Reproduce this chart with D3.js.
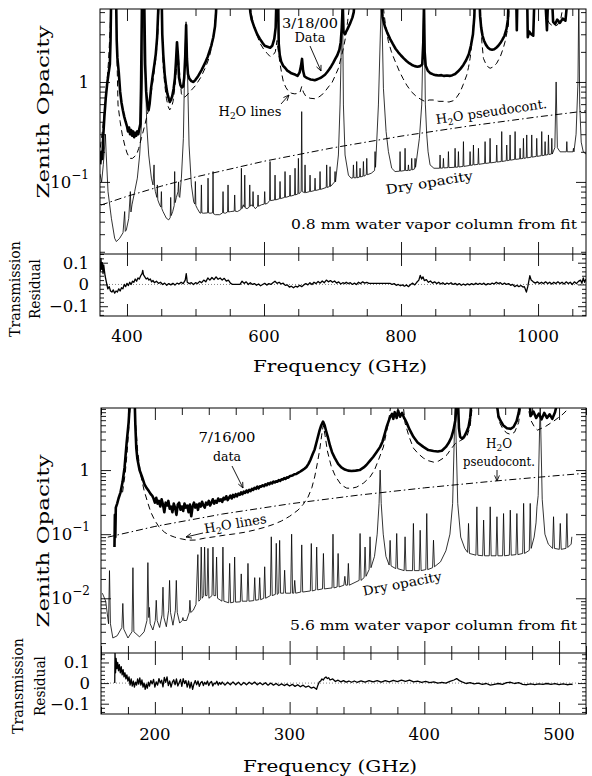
<!DOCTYPE html>
<html><head><meta charset="utf-8">
<script src="https://cdn.jsdelivr.net/npm/d3@7"></script>
<style>
html,body{margin:0;padding:0;background:#fff;}
svg{display:block;}
text{font-family:"DejaVu Serif",serif;fill:#000;}
</style></head><body>
<svg id="chart" width="592" height="776"></svg>
<script>
// ---------- tick labels ----------
const freqLabelsMar18 = [400, 600, 800, 1000];
const freqLabelsJul16 = [200, 300, 400, 500];
const opacityLabelsMar18 = [1, 0.1];
const opacityLabelsJul16 = [1, 0.1, 0.01];
const residualLabels = [0.1, 0, -0.1];

// ---------- 3/18/00 spectrum: [frequency GHz, zenith opacity] ----------
const dataMar18 = [[361,0.15],[362.5,0.2],[364,0.17],[365.5,0.3],[367,0.45],[369,0.69],[371,0.95],[373,1.2],[375,1.5],[376,2.6],[377,8],[384,8],[385,2.6],[386,1.74],[388,1.25],[390,0.8],[392,0.62],[394,0.52],[396,0.45],[398,0.4],[400,0.36],[401.5,0.32],[403,0.35],[404.5,0.3],[406,0.33],[407.5,0.29],[409,0.32],[410.5,0.28],[412,0.31],[413.5,0.29],[415,0.32],[416.5,0.3],[418,0.34],[419.5,0.38],[420.5,0.87],[422,8],[425,8],[426.5,1.5],[428,0.8],[430,0.58],[431.5,0.52],[433,0.6],[435,0.85],[437.5,1.15],[440,1.5],[442,1.9],[444,2.8],[445.5,5],[446.5,8],[450.5,8],[451.5,3],[453,1.86],[455,1.2],[457,0.92],[459,0.76],[461,0.68],[462.5,0.63],[464,0.66],[466,0.72],[468,0.85],[470,1.1],[471.5,1.6],[473,2.5],[474.5,1.8],[476,1.1],[478,0.93],[480,0.88],[482,0.9],[483.5,1.1],[485,1.8],[486.3,3.7],[487.5,1.7],[489,1.2],[491,1.08],[494,1.02],[497,1],[500,1.05],[504,1.15],[509,1.32],[514,1.55],[518,1.8],[523,2.3],[526,2.8],[528.5,3.6],[530,5],[531,8],[578,8],[580,5],[582,4.2],[586,3.5],[590,3],[594,2.7],[598,2.45],[601,2.3],[605,2.25],[609,2.2],[612,2.3],[615,2.7],[617,3.5],[618.5,8],[620.5,8],[621.5,2.4],[623,1.86],[625,1.6],[628,1.45],[631,1.38],[634,1.3],[637,1.26],[640,1.22],[643,1.2],[646,1.18],[649,1.15],[652,1.25],[654,1.45],[655.5,1.7],[657,1.3],[659,1.14],[662,1.1],[665,1.08],[668,1.06],[671,1.05],[674,1.04],[677,1.06],[680,1.08],[683,1.1],[686,1.14],[689,1.18],[692,1.25],[695,1.33],[698,1.43],[701,1.55],[704,1.7],[707,1.85],[710,2.1],[712,2.5],[713.5,3.5],[715,6],[716,3.2],[718,3],[722,3.4],[726,3.9],[729,4.4],[731,5],[733,8],[770,8],[771.5,6],[773,4.5],[775,3.9],[777,3.5],[780,3.1],[784,2.7],[788,2.4],[792,2.15],[796,1.98],[800,1.84],[804,1.72],[808,1.62],[812,1.54],[816,1.48],[820,1.44],[824,1.42],[828,1.44],[831,1.5],[832.5,2.5],[833.5,6],[834.5,2],[836,1.45],[839,1.3],[843,1.22],[847,1.19],[851,1.17],[855,1.16],[859,1.17],[863,1.15],[867,1.16],[871,1.15],[875,1.17],[879,1.2],[883,1.27],[887,1.36],[891,1.48],[895,1.65],[899,1.9],[902,2.3],[905,3],[907,4.5],[908,8],[914,8],[915.5,4.5],[917,3.5],[919,2.9],[921,2.6],[924,2.35],[927,2.2],[930,2.12],[933,2.1],[936,2.12],[939,2.2],[942,2.3],[945,2.45],[948,2.65],[951,2.9],[954,3.4],[956,4.2],[957.5,8],[968,8],[969,3.3],[970,8],[984,8],[985,2.8],[987,3.2],[990,3],[993,2.9],[995,8],[1010,8],[1013,3.3],[1015,8],[1020,8],[1022,4],[1025,3.8],[1028,4.2],[1032,3.9],[1036,4.3],[1040,4.1],[1044,8],[1070,8]];

const h2oLinesMar18 = [[361,0.22],[364,0.32],[367,0.5],[370,0.85],[373,1.6],[375.5,3.5],[377,8],[384,8],[385.5,1.6],[386.9,0.589],[390,0.4],[393,0.3],[396.6,0.234],[400,0.195],[403.9,0.172],[408,0.172],[413.7,0.186],[417,0.215],[421,0.273],[426,0.37],[430.7,0.505],[435,0.75],[439,1.15],[442.5,1.8],[445,3],[446.5,5.5],[447.5,8],[450.5,8],[451.5,3],[452.6,1.48],[455,0.95],[457.5,0.687],[460,0.57],[462.3,0.525],[465,0.56],[467.2,0.636],[470,0.9],[472.5,1.4],[474.5,2],[476.5,1.3],[479.4,0.76],[483,0.7],[486,0.72],[492,0.8],[500,0.92],[508,1.12],[515,1.42],[520,1.75],[524,2.3],[527,3.2],[529.5,5],[531,8],[578,8],[581,5],[585,3.7],[590,2.9],[594.2,2.44],[600,2.1],[605,1.92],[608.8,1.8],[613,1.85],[616.5,2],[619,2.6],[621,2],[623.5,1.5],[626,1.2],[628.3,1],[632,0.88],[636,0.8],[640.4,0.77],[645,0.76],[650,0.77],[652.6,0.79],[655,0.9],[657.5,0.79],[661,0.72],[667.2,0.687],[674,0.68],[679,0.7],[684.2,0.74],[690,0.82],[695,0.91],[698.8,0.97],[703,1.12],[708.6,1.37],[712,1.7],[715.9,2.17],[719,2.8],[722,4],[725,6],[727,8],[772,8],[775,5],[778,3.4],[781.6,2.53],[786,2],[790,1.7],[793.7,1.48],[798,1.26],[803,1.08],[808.3,0.93],[815,0.8],[822.9,0.71],[829,0.67],[835.1,0.636],[841,0.66],[847,0.66],[855,0.64],[861.9,0.64],[870,0.63],[876.5,0.65],[881,0.7],[886.2,0.79],[891,0.95],[895.9,1.17],[898.5,1.4],[900.8,1.72],[903,2.3],[905,3.2],[906.5,5],[907.5,8],[915,8],[916.5,4],[918,2.5],[920.3,1.72],[925,1.45],[930,1.37],[935,1.42],[939.7,1.54],[945,1.8],[949,2.15],[951.9,2.53],[954.5,3.1],[956.8,3.7],[958.5,8],[1010,8],[1012.7,4.5],[1016,3.9],[1022,3.6],[1028,3.7],[1033,4.2],[1036,5.5],[1038,8],[1070,8]];

const pseudoContMar18 = [[362,0.0587],[400,0.0717],[450,0.0907],[500,0.112],[600,0.161],[700,0.219],[800,0.287],[900,0.363],[1000,0.448],[1070,0.513]];

const dryMar18 = [[360.6,0.12],[363,0.1],[365.5,0.15],[367.5,0.234],[368.5,0.3],[369.5,0.2],[372.3,0.08],[377.2,0.0433],[382,0.0273],[384.5,0.0253],[389.3,0.0273],[394.2,0.031],[396.6,0.0505],[397.5,0.032],[399,0.033],[402.5,0.043],[404.9,0.08],[405.8,0.05],[407.3,0.059],[411.2,0.08],[415.1,0.109],[418.5,0.186],[421,0.37],[423.4,1.9],[424.8,8],[426.3,1.9],[428.8,0.37],[431.7,0.186],[435.6,0.109],[438,0.0933],[439.5,0.148],[440.3,0.09],[441.4,0.08],[443.6,0.07],[444.3,0.0933],[445,0.066],[447.7,0.0589],[449.5,0.056],[450.2,0.08],[450.9,0.054],[452.6,0.0505],[457.5,0.0433],[460.9,0.0417],[463.1,0.044],[463.8,0.07],[464.5,0.046],[466.7,0.0505],[468.9,0.058],[469.6,0.127],[470.3,0.062],[472.1,0.07],[474.5,0.08],[475.3,0.1],[476,0.072],[477,0.07],[479.4,0.109],[482.3,0.273],[484.2,1.5],[486.2,4],[488.1,1.5],[490.6,0.234],[494,0.0933],[497.4,0.063],[499.1,0.06],[499.8,0.101],[500.5,0.058],[502.7,0.054],[506.6,0.0486],[507.9,0.049],[508.6,0.0933],[509.3,0.049],[511.5,0.0486],[517.6,0.049],[518.3,0.109],[519,0.049],[521.2,0.0486],[524.9,0.049],[525.6,0.127],[526.3,0.048],[529,0.047],[535.3,0.047],[539.5,0.049],[540.2,0.08],[540.9,0.049],[543.6,0.0486],[546.8,0.05],[547.5,0.0933],[548.2,0.05],[551.4,0.0505],[556.5,0.051],[557.2,0.074],[557.9,0.051],[561.1,0.0505],[566.3,0.053],[567,0.137],[567.7,0.054],[569.9,0.059],[571.2,0.056],[571.9,0.117],[572.6,0.055],[575.3,0.054],[578.5,0.056],[579.2,0.0933],[579.9,0.057],[581.6,0.059],[583.3,0.057],[584,0.08],[584.7,0.057],[587.4,0.054],[590.6,0.057],[591.3,0.074],[592,0.057],[596.2,0.059],[600.3,0.06],[601,0.08],[601.7,0.06],[605,0.061],[608.1,0.065],[608.8,0.16],[609.5,0.065],[615.4,0.066],[616.1,0.117],[616.8,0.066],[622.7,0.068],[623.4,0.101],[624.1,0.068],[630,0.07],[630.7,0.127],[631.4,0.07],[637.3,0.072],[638,0.117],[638.7,0.072],[644.6,0.074],[645.3,0.137],[646,0.074],[649.5,0.076],[650.2,0.172],[650.9,0.076],[654.2,0.08],[655,0.505],[655.8,0.08],[659.2,0.078],[659.9,0.148],[660.6,0.078],[666.5,0.08],[667.2,0.117],[667.9,0.08],[673.8,0.082],[674.5,0.109],[675.2,0.082],[681.1,0.084],[681.8,0.127],[682.5,0.084],[690.8,0.088],[691.5,0.148],[692.2,0.088],[695.7,0.09],[696.4,0.142],[697.1,0.09],[703,0.1],[703.7,0.127],[704.4,0.1],[708.6,0.186],[711,0.589],[714.5,8],[715.9,0.589],[718.3,0.186],[723.2,0.117],[727,0.109],[729.8,0.11],[730.5,0.148],[731.2,0.11],[734.6,0.11],[735.3,0.16],[736,0.11],[739.5,0.112],[740.2,0.137],[740.9,0.112],[744.4,0.114],[745.1,0.16],[745.8,0.114],[749.3,0.118],[750,0.172],[750.7,0.118],[756.5,0.122],[761.4,0.13],[762.1,0.201],[762.8,0.14],[767,0.589],[771.5,8],[774.3,0.865],[778.2,0.319],[781.6,0.201],[786.4,0.137],[791.3,0.127],[797.9,0.128],[798.6,0.201],[799.3,0.128],[805.2,0.13],[805.9,0.217],[806.6,0.13],[810.1,0.13],[810.8,0.148],[811.5,0.13],[814.9,0.132],[815.6,0.172],[816.3,0.132],[819.8,0.135],[820.5,0.172],[821.2,0.14],[826.8,0.273],[830.2,0.589],[833.5,8],[835.5,0.6],[837.5,0.3],[839.5,0.2],[842.4,0.148],[848,0.137],[856.3,0.137],[857,0.186],[857.7,0.137],[861.2,0.138],[861.9,0.172],[862.6,0.138],[868.5,0.139],[869.2,0.201],[869.9,0.139],[878.2,0.14],[878.9,0.217],[879.6,0.14],[883.1,0.141],[883.8,0.201],[884.5,0.141],[890.4,0.143],[891.1,0.253],[891.8,0.143],[900.1,0.146],[900.8,0.201],[901.5,0.146],[905,0.148],[905.7,0.234],[906.4,0.148],[912.3,0.15],[913,0.217],[913.7,0.15],[922,0.153],[922.7,0.253],[923.4,0.153],[929.3,0.155],[930,0.273],[930.7,0.155],[939,0.158],[939.7,0.234],[940.4,0.158],[946.3,0.16],[947,0.319],[947.7,0.16],[953.6,0.163],[954.3,0.234],[955,0.163],[958.5,0.165],[959.2,0.295],[959.9,0.165],[965.8,0.168],[966.5,0.319],[967.2,0.168],[973.1,0.17],[973.8,0.217],[974.5,0.17],[978,0.172],[978.7,0.273],[979.4,0.172],[982.8,0.174],[983.5,0.295],[984.2,0.174],[990.1,0.177],[990.8,0.295],[991.5,0.177],[997.4,0.18],[998.1,0.273],[998.8,0.18],[1004.7,0.183],[1005.4,0.319],[1006.1,0.183],[1009.6,0.185],[1010.3,0.253],[1011,0.185],[1014.5,0.188],[1015.2,0.295],[1015.9,0.188],[1019.4,0.19],[1020.1,0.273],[1020.8,0.19],[1024.5,0.22],[1026.4,1],[1028.2,0.22],[1032.2,0.2],[1041.3,0.2],[1042,0.253],[1042.7,0.2],[1051,0.2],[1051.7,0.217],[1052.4,0.2],[1055.5,0.3],[1058.3,1],[1059.5,8],[1060.8,0.6],[1063,0.25],[1066,0.2],[1070,0.19]];

const residMar18 = [[361,0.06],[362,0.12],[363,0.07],[364,0.1],[365,0.05],[366,0.09],[368,0.04],[370,0.01],[372,-0.02],[374,-0.01],[376,-0.03],[378,-0.035],[380,-0.025],[382,-0.04],[384,-0.03],[386,-0.035],[388,-0.02],[390,-0.03],[392,-0.015],[394,-0.02],[396,0],[398,-0.01],[400,0.005],[402,-0.005],[404,0.01],[406,0],[408,0.015],[410,0.01],[412,0.025],[414,0.015],[416,0.03],[418,0.025],[420,0.04],[422,0.05],[423,0.065],[424,0.045],[426,0.035],[428,0.025],[430,0.03],[432,0.02],[434,0.025],[436,0.012],[438,0.018],[440,0.008],[443,0.015],[446,0.005],[449,0.01],[452,0],[455,0.006],[458,-0.004],[461,0.004],[464,-0.002],[467,0.005],[470,-0.003],[473,0.006],[476,0.002],[479,0.01],[482,0.004],[485,0.02],[486.5,0.05],[488,0.01],[491,0.004],[494,0.008],[497,0],[500,0.008],[503,0.004],[506,0.014],[509,0.008],[512,0.02],[515,0.012],[518,0.03],[521,0.02],[524,0.032],[527,0.022],[530,0.035],[533,0.024],[536,0.03],[539,0.02],[542,0.028],[545,0.015],[548,0.02],[551,0.006],[554,0],[565,0],[568,0.015],[571,0.005],[574,0.012],[577,0],[580,0.008],[583,0],[586,0.004],[589,-0.004],[592,0.002],[595,-0.006],[598,0],[601,0.005],[604,-0.003],[607,0.004],[610,0],[613,0.008],[616,0.015],[619,0.005],[622,0.01],[625,0.002],[628,0.006],[631,-0.004],[634,-0.002],[637,-0.012],[640,-0.008],[643,-0.015],[646,-0.008],[649,-0.012],[652,-0.004],[655,-0.01],[658,-0.002],[661,0.004],[664,-0.002],[667,0.008],[670,0],[673,0.01],[676,0.004],[679,0.014],[682,0.006],[685,0.016],[688,0.008],[691,0.02],[694,0.012],[697,0.018],[700,0.01],[703,0.016],[706,0.006],[709,0.012],[712,0.002],[715,0.008],[718,0.004],[720,0.01],[723,0.004],[726,0.008],[729,0],[732,0.006],[735,0],[738,0.01],[741,0.004],[744,0.012],[747,0.006],[750,0.01],[753,0.005],[756,0.005],[784,0.005],[787,0],[790,0.004],[793,-0.004],[796,0],[799,-0.006],[802,-0.002],[805,-0.008],[808,-0.002],[811,-0.01],[814,0],[817,0.006],[820,-0.002],[823,0.01],[826,0.02],[828,0.042],[830,0.025],[832,0.035],[834,0.018],[837,0.022],[840,0.01],[843,0.016],[846,0.006],[849,0.012],[852,0.004],[855,0.01],[858,0.002],[861,0.008],[864,0],[867,0.006],[870,0.002],[873,0.008],[876,0],[879,0.005],[882,-0.002],[885,0.004],[888,-0.004],[891,0.002],[894,-0.003],[897,0.003],[900,-0.002],[903,0.004],[906,-0.001],[909,0.006],[912,0],[915,0.005],[918,0],[921,0.006],[924,-0.002],[927,0.004],[930,0],[933,0.006],[936,0.002],[939,0.01],[942,0.004],[945,0.008],[948,0],[951,0.006],[954,0],[957,0.004],[960,-0.004],[963,0],[966,-0.01],[969,-0.004],[972,-0.01],[975,-0.005],[978,-0.012],[980,-0.01],[983,-0.035],[985,-0.01],[988,0.04],[990,0.02],[993,0.012],[996,0.006],[999,0.012],[1002,0.004],[1005,0.01],[1008,0.004],[1011,0.012],[1014,0.004],[1017,0.01],[1020,0.002],[1023,0.01],[1026,0.004],[1029,0.012],[1032,0.004],[1035,0.01],[1038,0.002],[1041,0.012],[1044,0.004],[1047,0.01],[1050,0],[1053,0.012],[1056,0.004],[1059,0.014],[1062,0.02],[1064,0.005],[1066,0.03],[1068,0.01],[1070,0.025]];

// ---------- 7/16/00 spectrum ----------
const dataJul16 = [[170,0.063],[170.3,0.2],[170.6,0.09],[171,0.26],[172,0.3],[173,0.36],[174.5,0.45],[176,0.65],[177.5,1.1],[179,2.6],[180.5,5.5],[181.5,12],[185,12],[185.5,5],[186.2,2.2],[187,1.5],[188.6,1],[190.5,0.78],[192.3,0.6],[194,0.52],[195.5,0.47],[197,0.42],[198,0.4],[199,0.36],[200,0.31],[201,0.37],[202,0.3],[203,0.33],[204,0.27],[205,0.35],[206,0.29],[207,0.22],[208,0.31],[209,0.28],[210,0.33],[211,0.25],[212,0.27],[213,0.22],[214,0.3],[215,0.26],[216,0.2],[217,0.29],[218,0.31],[219,0.24],[220,0.27],[221,0.23],[222,0.3],[223,0.26],[224,0.28],[225,0.22],[226,0.29],[227,0.19],[228,0.27],[229,0.31],[230,0.26],[231,0.29],[232,0.24],[233,0.3],[234,0.27],[235,0.32],[236,0.28],[237,0.26],[238,0.31],[239,0.29],[240,0.33],[241,0.28],[242,0.31],[243,0.35],[244,0.3],[245,0.33],[246,0.31],[247,0.36],[248,0.33],[249,0.35],[250,0.32],[251,0.37],[252,0.35],[253,0.39],[254,0.34],[255,0.37],[256,0.4],[257,0.36],[258,0.41],[259,0.38],[260,0.42],[261,0.39],[262,0.43],[263,0.41],[264,0.45],[265,0.42],[266,0.46],[267,0.44],[268,0.48],[269,0.45],[270,0.49],[271,0.47],[272,0.51],[273,0.49],[274,0.53],[275,0.51],[276,0.55],[277,0.52],[278,0.56],[279,0.55],[280,0.58],[281,0.56],[282,0.6],[283,0.58],[284,0.62],[285,0.6],[286,0.64],[287,0.62],[288,0.66],[289,0.64],[290,0.67],[291,0.66],[292,0.7],[293,0.68],[294,0.72],[295,0.71],[296,0.75],[297,0.73],[298,0.77],[299,0.76],[300,0.8],[302,0.82],[303.5,0.86],[305,0.87],[306.5,0.91],[308,0.95],[309.5,1],[311,1.05],[312.5,1.12],[314,1.25],[315.5,1.45],[317,1.75],[318.6,2.1],[320.5,3],[322.3,4.2],[323.5,5],[324.8,5.7],[326,5],[327.2,4],[328.5,3.2],[330,2.4],[331.5,1.9],[333.5,1.55],[336,1.25],[338.4,1.1],[341,1.02],[343.4,0.98],[346,0.97],[349,0.98],[352,1],[355,1.1],[357,1.2],[359.7,1.4],[362,1.6],[364.5,1.9],[367.2,2.3],[369,2.8],[370.5,3.6],[372,4.7],[373.5,5.8],[374.6,6.7],[376,7.5],[377,6.3],[378,8],[379.5,6.5],[380.5,8.5],[382,6.8],[383.5,7.8],[385,6.5],[386,6],[387,5.4],[389,4.3],[391.9,3.3],[395,2.7],[399.3,2.3],[403,2.05],[406.8,1.98],[410,1.95],[413,2],[416,2.3],[418,2.64],[420,3.2],[421.6,4.2],[423,6],[424.2,12],[425,12],[425.7,4.5],[426.6,3.3],[428,3.1],[429.5,3.3],[431,3.8],[432.8,4.7],[434,6.5],[435,12],[453.5,12],[455,7],[456.3,6],[458.5,5],[461.3,4.5],[464,4.4],[466.2,4.7],[468.5,5.8],[470,7.8],[471.5,12],[478,12],[479,7],[481,8.2],[483,6.5],[485,7.6],[487,6.2],[489,7.8],[491,6.5],[493,7.4],[495,6.3],[497,8],[499,12],[520,12]];

const h2oLinesJul16 = [[176,0.45],[178,0.9],[179.5,2],[180.8,5],[181.8,12],[184.8,12],[185.8,5],[187.2,2],[188.5,1.2],[189.8,0.78],[192,0.48],[194.8,0.305],[197,0.22],[199.8,0.166],[203,0.13],[207.2,0.107],[210.5,0.097],[214.6,0.09],[219,0.085],[224.5,0.0806],[230,0.081],[236.9,0.0866],[244,0.091],[251.8,0.0965],[259,0.101],[266.6,0.107],[274,0.116],[281.5,0.128],[288,0.142],[293.8,0.16],[300,0.19],[306.2,0.237],[310,0.29],[313.7,0.38],[316.5,0.53],[318.6,0.78],[320.5,1.25],[322.3,2.05],[323.8,3.5],[325,5],[326.3,3.5],[328,2],[331,1.12],[334,0.8],[338.4,0.583],[342.4,0.523],[346,0.52],[349.8,0.543],[355,0.63],[359.7,0.78],[363,1],[365.9,1.43],[369.6,2.29],[373.3,5.4],[375.5,12],[384,12],[385.7,5.4],[388.5,3.4],[391.9,2.2],[395.5,1.8],[399.3,1.54],[403,1.4],[406.8,1.33],[410.5,1.38],[414.2,1.54],[417,1.75],[419.2,2.05],[423,2.6],[427,2.9],[431.5,3.3],[434,4.8],[436,12],[453,12],[455,6],[458,4.5],[461,3.8],[464,3.6],[467,3.9],[470,5.5],[472,12],[476,12],[479,6],[482,4.6],[484,4.2],[490,4.8],[497,6],[503,7.5],[506,8.7],[508,12],[520,12]];

const pseudoContJul16 = [[165,0.0898],[200,0.132],[250,0.206],[300,0.297],[350,0.404],[400,0.528],[450,0.668],[500,0.825],[520,0.892]];

const dryJul16 = [[161,0.012],[163.5,0.009],[165.6,0.004],[166.3,0.027],[167,0.004],[168.8,0.0024],[172,0.0026],[175.5,0.0035],[176.2,0.0083],[176.9,0.0033],[180,0.0024],[183,0.003],[183.7,0.03],[184.4,0.003],[188.6,0.0025],[192,0.003],[194.1,0.0045],[194.8,0.036],[195.5,0.005],[195.9,0.0072],[196.5,0.004],[198.5,0.0032],[200.3,0.0045],[201,0.0093],[201.7,0.0045],[203.5,0.0035],[205.3,0.0055],[206,0.0149],[206.7,0.005],[208.5,0.0036],[210.2,0.0065],[210.9,0.019],[211.6,0.006],[213.4,0.0038],[215.2,0.0065],[215.9,0.019],[216.6,0.006],[218.4,0.0041],[220.3,0.0045],[220.8,0.005],[221.3,0.0045],[223.5,0.0045],[225.5,0.006],[226,0.0093],[226.6,0.006],[228.5,0.0065],[230.5,0.008],[231.9,0.048],[232.6,0.009],[233.7,0.0095],[234.4,0.063],[235.1,0.01],[236.2,0.011],[236.9,0.063],[237.6,0.011],[238.7,0.011],[239.4,0.06],[240.1,0.01],[242.4,0.011],[243.1,0.063],[243.8,0.011],[245.1,0.011],[245.8,0.044],[246.5,0.01],[249.8,0.009],[250.5,0.063],[251.2,0.009],[254.8,0.0085],[255.5,0.035],[256.2,0.0085],[258.5,0.0087],[259.2,0.044],[259.9,0.0087],[263.4,0.0088],[264.1,0.024],[264.8,0.009],[268.4,0.009],[269.1,0.035],[269.8,0.009],[273.4,0.0092],[274.1,0.021],[274.8,0.0093],[277.1,0.0095],[277.8,0.021],[278.5,0.0095],[280.8,0.01],[281.5,0.031],[282.2,0.01],[285.7,0.011],[286.4,0.091],[287.1,0.011],[289.4,0.0115],[290.1,0.072],[290.8,0.0115],[291.9,0.012],[292.6,0.08],[293.3,0.012],[295.6,0.012],[296.3,0.0274],[297,0.012],[300.8,0.012],[301.5,0.1],[302.2,0.012],[303.1,0.012],[303.8,0.019],[304.5,0.012],[308.3,0.0125],[309,0.068],[309.7,0.0125],[315.4,0.013],[316.1,0.0715],[316.8,0.013],[319.4,0.0135],[320.1,0.063],[320.8,0.0135],[324.4,0.014],[325.1,0.05],[325.8,0.014],[331.5,0.0145],[332.2,0.1],[332.9,0.0145],[335.3,0.015],[336,0.05],[336.7,0.015],[340.3,0.016],[341,0.022],[341.7,0.016],[342.9,0.016],[343.6,0.035],[344.3,0.016],[351.6,0.019],[352.3,0.1025],[353,0.019],[355.3,0.021],[356,0.063],[356.7,0.022],[359,0.028],[359.7,0.091],[360.4,0.03],[363,0.045],[365,0.1],[366.4,0.3],[367.2,1],[368,0.3],[369.5,0.1],[371.5,0.045],[373.9,0.033],[374.6,0.08],[375.3,0.032],[378.8,0.029],[379.5,0.1025],[380.2,0.029],[385,0.027],[385.7,0.091],[386.4,0.027],[391.2,0.027],[391.9,0.147],[392.6,0.027],[396.2,0.027],[396.9,0.115],[397.6,0.027],[401.1,0.028],[401.8,0.21],[402.5,0.028],[406.1,0.03],[406.8,0.0806],[407.5,0.031],[412,0.037],[416,0.055],[419,0.1],[421,0.3],[422.9,12],[424.8,0.3],[427,0.09],[430,0.06],[432.1,0.052],[432.8,0.147],[433.5,0.05],[438.3,0.047],[439,0.267],[439.7,0.047],[443.3,0.046],[444,0.166],[444.7,0.046],[448.2,0.046],[448.9,0.267],[449.6,0.046],[453.2,0.046],[453.9,0.187],[454.6,0.046],[458.1,0.046],[458.8,0.21],[459.5,0.046],[463.1,0.047],[463.8,0.237],[464.5,0.047],[468,0.048],[468.7,0.21],[469.4,0.048],[473,0.05],[473.7,0.302],[474.4,0.05],[477.9,0.056],[478.6,0.302],[479.3,0.06],[481.5,0.09],[482.9,0.15],[483.6,0.267],[484.5,0.4],[486,12],[487.5,0.35],[489.5,0.1],[492,0.07],[495.2,0.06],[495.9,0.187],[496.6,0.06],[500.2,0.058],[500.9,0.147],[501.6,0.058],[505.1,0.06],[505.8,0.21],[506.5,0.062],[509,0.07],[509.5,0.091]];

const residJul16 = [[170.2,0],[170.4,0.15],[170.8,0.05],[171.2,0.12],[171.8,0.07],[172.4,0.1],[173,0.06],[173.6,0.09],[174.3,0.05],[175,0.08],[175.7,0.04],[176.4,0.065],[177.1,0.03],[177.8,0.05],[178.5,0.02],[179.2,0.04],[180,0.01],[180.8,0.03],[181.6,-0.01],[182.4,0.02],[183.2,-0.015],[184,0.01],[184.8,-0.02],[185.6,0.005],[186.4,-0.01],[187.2,0.02],[188,-0.005],[188.8,0.025],[189.6,-0.01],[190.4,0.015],[191.2,-0.02],[192,0],[192.8,-0.03],[193.6,-0.005],[194.4,-0.025],[195.2,0.005],[196,-0.015],[197,0.012],[198,-0.004],[199,0.018],[200,-0.02],[201,0.006],[202,-0.01],[203,0.022],[204,0],[205,0.014],[206,-0.018],[207,0.028],[208,0.004],[209,0.03],[210,-0.012],[211,0.01],[212,-0.02],[213,0.005],[214,0.016],[215,-0.008],[216,0.02],[217,-0.014],[218,0.002],[219,0.018],[220,-0.016],[221,0.022],[222,-0.002],[223,0.012],[224,-0.02],[225,0.01],[226,-0.024],[227,0.004],[228,-0.03],[229,-0.004],[230,0.012],[231,-0.008],[232,0.01],[233,-0.016],[234,0.002],[235,0.008],[236,-0.012],[237,0.004],[238,-0.006],[239,0.01],[240,-0.012],[241,0.002],[242,0.008],[243,-0.014],[244,0],[245,-0.004],[246,0.009],[247,-0.01],[248,0.003],[249,-0.006],[250,0.005],[252,-0.01],[254,0.004],[256,-0.008],[258,0.006],[260,-0.008],[262,0.004],[264,-0.01],[266,0.003],[268,-0.008],[270,0.004],[272,-0.006],[274,0.005],[276,-0.008],[278,0.002],[280,-0.008],[282,0.002],[284,-0.01],[286,0],[288,-0.01],[290,-0.002],[292,-0.012],[294,-0.004],[296,-0.012],[298,-0.005],[300,-0.014],[302,-0.006],[304,-0.016],[306,-0.008],[308,-0.018],[310,-0.01],[312,-0.02],[314,-0.014],[316,-0.024],[318,-0.02],[320,-0.03],[321,-0.01],[322,0.005],[323,0.01],[324,0.02],[325,0.015],[326,0.025],[327,0.03],[328,0.022],[329,0.026],[330,0.015],[332,0.02],[334,0.008],[336,0.014],[338,0.006],[340,0.012],[342,0.005],[344,0.01],[346,0.004],[348,0.01],[350,0.004],[353,0.011],[356,0.005],[359,0.012],[362,0.006],[365,0.012],[368,0.005],[371,0.012],[374,0.006],[377,0.013],[380,0.007],[383,0.014],[386,0.008],[389,0.014],[392,0.006],[395,0.01],[398,0.004],[401,0.008],[404,0.002],[407,0.006],[410,0],[413,0.004],[416,0],[419,0.008],[422,0.015],[424,0.022],[426,0.012],[428,0.006],[431,-0.002],[434,0.002],[437,-0.004],[440,0],[443,-0.006],[446,-0.002],[449,-0.01],[452,-0.006],[455,-0.002],[458,-0.006],[461,0.002],[464,0.004],[467,-0.002],[470,0.002],[473,-0.006],[476,-0.008],[479,-0.004],[482,-0.008],[485,-0.004],[488,-0.006],[491,-0.002],[494,-0.006],[497,-0.003],[500,-0.008],[503,-0.004],[506,-0.008],[509,-0.005],[510,-0.008]];

// ---------- layout ----------
const panels = [
  { id: "mar18", left: 100, right: 586, top: 9, mid: 254, bottom: 316,
    freqDomain: [360.6, 1070], opacityDomain: [0.019, 5.37], residDomain: [-0.145, 0.14],
    freqLabels: freqLabelsMar18, freqStep: 50, opacityLabels: opacityLabelsMar18,
    data: dataMar18, h2o: h2oLinesMar18, pseudo: pseudoContMar18, dry: dryMar18, resid: residMar18,
    titleX: 340, titleY: 372, zenithY: 112, transX: 20, residX: 40, transY: 289 },
  { id: "jul16", left: 101, right: 586, top: 408, mid: 653, bottom: 714,
    freqDomain: [160, 520], opacityDomain: [0.0014, 9.3], residDomain: [-0.15, 0.146],
    freqLabels: freqLabelsJul16, freqStep: 20, opacityLabels: opacityLabelsJul16,
    data: dataJul16, h2o: h2oLinesJul16, pseudo: pseudoContJul16, dry: dryJul16, resid: residJul16,
    titleX: 330, titleY: 772, zenithY: 541, transX: 23, residX: 45, transY: 686 }
];

const svg = d3.select("#chart");
const defs = svg.append("defs");
defs.append("marker").attr("id", "arrowHead").attr("viewBox", "0 0 10 10")
  .attr("refX", 9).attr("refY", 5).attr("markerWidth", 7).attr("markerHeight", 7)
  .attr("orient", "auto").attr("markerUnits", "userSpaceOnUse")
  .append("path").attr("d", "M1,1.5 L9,5 L1,8.5").attr("fill", "none")
  .attr("stroke", "#000").attr("stroke-width", 1.2);

function logTickValues(domain) {
  const out = [];
  for (let e = Math.floor(Math.log10(domain[0])); e <= Math.ceil(Math.log10(domain[1])); e++) {
    for (let k = 1; k <= 9; k++) {
      const v = k * Math.pow(10, e);
      if (v >= domain[0] && v <= domain[1]) out.push({ v, major: k === 1 });
    }
  }
  return out;
}

function styleAxis(sel) {
  sel.select(".domain").remove();
  sel.selectAll(".tick line").attr("stroke", "#000").attr("stroke-width", 0.9);
  sel.selectAll(".tick text").remove();
}

function drawPanel(p) {
  const g = svg.append("g");
  const x = d3.scaleLinear().domain(p.freqDomain).range([p.left, p.right]);
  const y = d3.scaleLog().domain(p.opacityDomain).range([p.mid, p.top]);
  const r = d3.scaleLinear().domain(p.residDomain).range([p.bottom, p.mid]);

  defs.append("clipPath").attr("id", p.id + "-main").append("rect")
    .attr("x", p.left).attr("y", p.top).attr("width", p.right - p.left).attr("height", p.mid - p.top);
  defs.append("clipPath").attr("id", p.id + "-res").append("rect")
    .attr("x", p.left).attr("y", p.mid).attr("width", p.right - p.left).attr("height", p.bottom - p.mid);

  const line = d3.line().x(d => x(d[0])).y(d => y(d[1]));
  const rline = d3.line().x(d => x(d[0])).y(d => r(d[1]));

  const main = g.append("g").attr("clip-path", `url(#${p.id}-main)`);
  main.append("path").datum(p.pseudo).attr("d", line).attr("fill", "none")
    .attr("stroke", "#000").attr("stroke-width", 1).attr("stroke-dasharray", "7,3,1.5,3");
  main.append("path").datum(p.h2o).attr("d", line).attr("fill", "none")
    .attr("stroke", "#000").attr("stroke-width", 1).attr("stroke-dasharray", "6,4");
  main.append("path").datum(p.dry).attr("d", line).attr("fill", "none")
    .attr("stroke", "#000").attr("stroke-width", 0.8).attr("stroke-linejoin", "round");
  main.append("path").datum(p.data).attr("d", line).attr("fill", "none")
    .attr("stroke", "#000").attr("stroke-width", 2.6).attr("stroke-linejoin", "round");

  const res = g.append("g").attr("clip-path", `url(#${p.id}-res)`);
  res.append("line").attr("x1", p.left).attr("x2", p.right).attr("y1", r(0)).attr("y2", r(0))
    .attr("stroke", "#666").attr("stroke-width", 0.8).attr("stroke-dasharray", "1,2");
  res.append("path").datum(p.resid).attr("d", rline).attr("fill", "none")
    .attr("stroke", "#000").attr("stroke-width", 1.3).attr("stroke-linejoin", "round");

  // frame
  g.append("rect").attr("x", p.left).attr("y", p.top).attr("width", p.right - p.left)
    .attr("height", p.bottom - p.top).attr("fill", "none").attr("stroke", "#000").attr("stroke-width", 1);
  g.append("line").attr("x1", p.left).attr("x2", p.right).attr("y1", p.mid).attr("y2", p.mid)
    .attr("stroke", "#000").attr("stroke-width", 1);

  // frequency ticks
  const fStart = Math.ceil(p.freqDomain[0] / p.freqStep) * p.freqStep;
  const fAll = d3.range(fStart, p.freqDomain[1] + 0.01, p.freqStep);
  const fMinor = fAll.filter(f => !p.freqLabels.includes(f));
  const xTicks = [[p.freqLabels, 12], [fMinor, 7]];
  xTicks.forEach(([vals, len]) => {
    g.append("g").attr("transform", `translate(0,${p.bottom})`)
      .call(d3.axisBottom(x).tickValues(vals).tickSize(-len)).call(styleAxis);
    g.append("g").attr("transform", `translate(0,${p.mid})`)
      .call(d3.axisBottom(x).tickValues(vals).tickSize(-len)).call(styleAxis);
    g.append("g").attr("transform", `translate(0,${p.mid})`)
      .call(d3.axisTop(x).tickValues(vals).tickSize(-len)).call(styleAxis);
    g.append("g").attr("transform", `translate(0,${p.top})`)
      .call(d3.axisTop(x).tickValues(vals).tickSize(-len)).call(styleAxis);
  });

  // opacity ticks (log)
  const lt = logTickValues(p.opacityDomain);
  [[lt.filter(t => t.major).map(t => t.v), 10], [lt.filter(t => !t.major).map(t => t.v), 5]]
    .forEach(([vals, len]) => {
      g.append("g").attr("transform", `translate(${p.left},0)`)
        .call(d3.axisLeft(y).tickValues(vals).tickSize(-len)).call(styleAxis);
      g.append("g").attr("transform", `translate(${p.right},0)`)
        .call(d3.axisRight(y).tickValues(vals).tickSize(-len)).call(styleAxis);
    });

  // residual ticks
  const rAll = d3.range(-7, 8).map(i => i * 0.02).filter(v => v >= p.residDomain[0] && v <= p.residDomain[1]);
  const rMinor = rAll.filter(v => Math.abs(v - 0.1) > 1e-6 && Math.abs(v + 0.1) > 1e-6 && Math.abs(v) > 1e-6);
  [[residualLabels, 8], [rMinor, 4]].forEach(([vals, len]) => {
    g.append("g").attr("transform", `translate(${p.left},0)`)
      .call(d3.axisLeft(r).tickValues(vals).tickSize(-len)).call(styleAxis);
    g.append("g").attr("transform", `translate(${p.right},0)`)
      .call(d3.axisRight(r).tickValues(vals).tickSize(-len)).call(styleAxis);
  });

  // tick labels
  g.selectAll(".flab").data(p.freqLabels).join("text")
    .attr("x", d => x(d)).attr("y", p.bottom + 26).attr("text-anchor", "middle")
    .attr("font-size", 16.5).text(d => d);

  const oLab = g.selectAll(".olab").data(p.opacityLabels).join("text")
    .attr("x", p.left - 11).attr("y", d => y(d) + 6).attr("text-anchor", "end").attr("font-size", 16.5);
  oLab.each(function (d) {
    const t = d3.select(this);
    const e = Math.round(Math.log10(d));
    if (e === 0) { t.text("1"); return; }
    t.append("tspan").text("10");
    t.append("tspan").attr("dy", -9).attr("font-size", 12).text("\u2212" + Math.abs(e));
  });

  g.selectAll(".rlab").data(residualLabels).join("text")
    .attr("x", p.left - 11).attr("y", d => r(d) + 6).attr("text-anchor", "end")
    .attr("font-size", 16.5).text(d => d === 0 ? "0" : (d < 0 ? "\u2212" : "") + Math.abs(d).toFixed(1));

  // axis titles
  g.append("text").attr("x", p.titleX).attr("y", p.titleY).attr("text-anchor", "middle")
    .attr("font-size", 16.5).attr("textLength", 174).attr("lengthAdjust", "spacingAndGlyphs")
    .text("Frequency (GHz)");
  g.append("text").attr("transform", `translate(49,${p.zenithY}) rotate(-90)`).attr("text-anchor", "middle")
    .attr("font-size", 17.5).attr("textLength", 173).attr("lengthAdjust", "spacingAndGlyphs")
    .text("Zenith Opacity");
  g.append("text").attr("transform", `translate(${p.transX},${p.transY}) rotate(-90)`).attr("text-anchor", "middle")
    .attr("font-size", 14).attr("textLength", 96).attr("lengthAdjust", "spacingAndGlyphs")
    .text("Transmission");
  g.append("text").attr("transform", `translate(${p.residX},${p.transY}) rotate(-90)`).attr("text-anchor", "middle")
    .attr("font-size", 14).attr("textLength", 60).attr("lengthAdjust", "spacingAndGlyphs")
    .text("Residual");
  return g;
}

function note(g, str, xPos, yPos, opts = {}) {
  const t = g.append("text").attr("font-size", opts.size || 13).attr("text-anchor", opts.anchor || "middle");
  if (opts.angle) t.attr("transform", `translate(${xPos},${yPos}) rotate(${opts.angle})`);
  else t.attr("x", xPos).attr("y", yPos);
  if (opts.len) t.attr("textLength", opts.len).attr("lengthAdjust", "spacingAndGlyphs");
  t.text(str);
  return t;
}
function h2oNote(g, rest, xPos, yPos, opts = {}) {
  const t = g.append("text").attr("font-size", opts.size || 13).attr("text-anchor", opts.anchor || "middle");
  if (opts.angle) t.attr("transform", `translate(${xPos},${yPos}) rotate(${opts.angle})`);
  else t.attr("x", xPos).attr("y", yPos);
  t.append("tspan").text("H");
  t.append("tspan").attr("dy", 3).attr("font-size", 9).text("2");
  t.append("tspan").attr("dy", -3).text("O" + rest);
  return t;
}
function arrow(g, x1, y1, x2, y2) {
  g.append("line").attr("x1", x1).attr("y1", y1).attr("x2", x2).attr("y2", y2)
    .attr("stroke", "#000").attr("stroke-width", 0.9).attr("marker-end", "url(#arrowHead)");
}

const gTop = drawPanel(panels[0]);
note(gTop, "3/18/00", 310, 28, { len: 56 });
note(gTop, "Data", 310, 42, { len: 31 });
arrow(gTop, 310, 46, 321, 71);
h2oNote(gTop, " lines", 250, 116);
arrow(gTop, 281, 104, 289, 95);
h2oNote(gTop, " pseudocont.", 492, 116, { angle: -8.2 });
note(gTop, "Dry opacity", 430, 187, { angle: -9.5, len: 88 });
note(gTop, "0.8 mm water vapor column from fit", 291, 229, { anchor: "start", len: 286 });

const gBot = drawPanel(panels[1]);
note(gBot, "7/16/00", 227, 442, { len: 57 });
note(gBot, "data", 227, 461, { len: 28 });
arrow(gBot, 232, 466, 243, 488);
h2oNote(gBot, " lines", 236, 528, { angle: -9.5 });
arrow(gBot, 203, 533, 186, 537);
h2oNote(gBot, "", 499, 448, { size: 12 });
note(gBot, "pseudocont.", 499, 466, { len: 72 });
arrow(gBot, 497, 470, 497, 481);
note(gBot, "Dry opacity", 403, 588, { angle: -11, len: 80 });
note(gBot, "5.6 mm water vapor column from fit", 290, 630, { anchor: "start", len: 287 });
</script>
</body></html>
